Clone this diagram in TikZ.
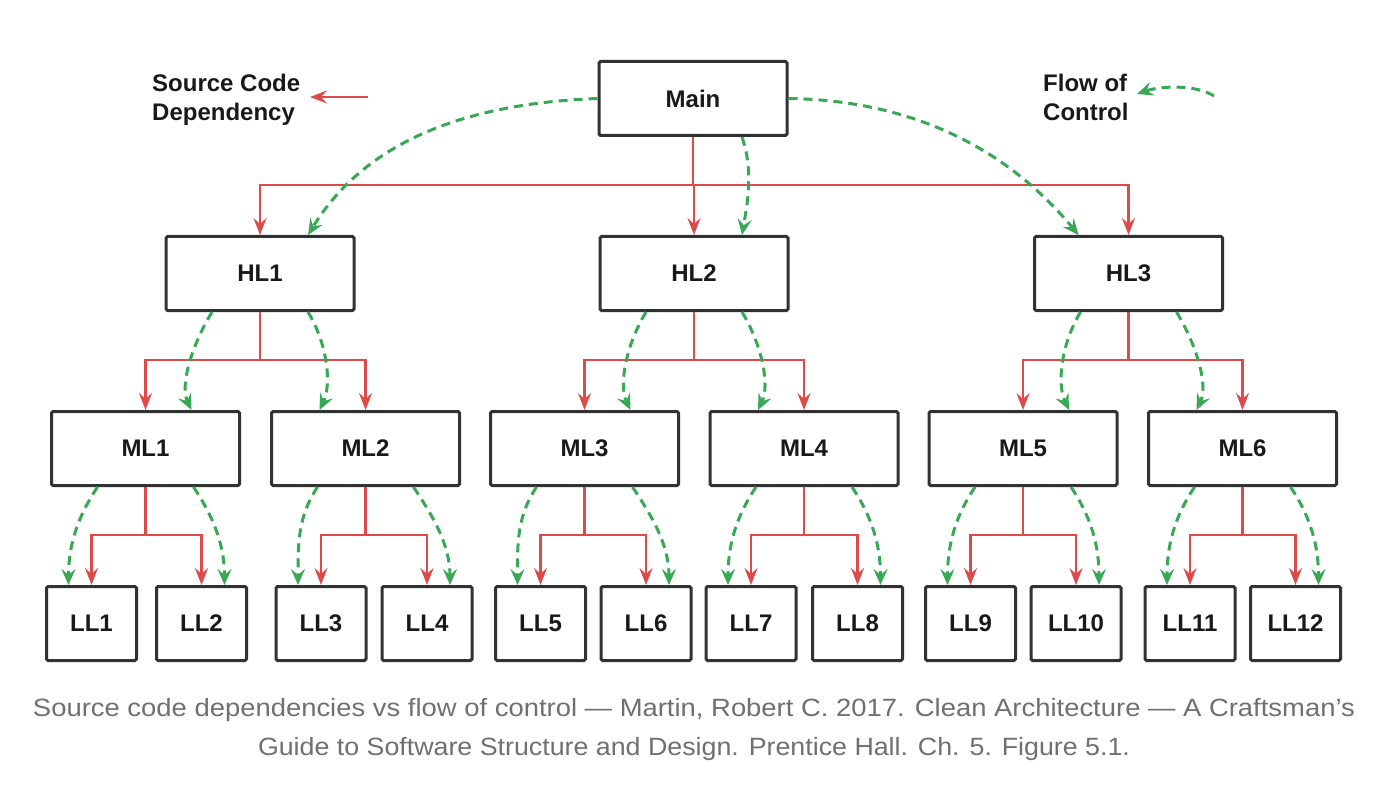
\documentclass[tikz,border=0pt]{standalone}
\usepackage{fontspec}
\setmainfont{Liberation Sans}
\usepackage{graphicx}
\usetikzlibrary{arrows.meta,calc}
\definecolor{depred}{RGB}{222,74,74}
\definecolor{flowgreen}{RGB}{56,168,84}
\definecolor{boxline}{RGB}{50,50,50}
\definecolor{labeltext}{RGB}{25,25,25}
\definecolor{captiongray}{RGB}{112,112,112}
\begin{document}
\begin{tikzpicture}[x=1pt,y=-1pt,
  box/.style={draw=boxline,line width=3pt,rounded corners=1.5pt,fill=white,
    minimum height=74pt,inner sep=0pt,text=labeltext,
    font=\fontsize{24}{29}\selectfont\bfseries},
  bigbox/.style={box,minimum width=188pt},
  llbox/.style={box,minimum width=90pt},
  dep/.style={draw=depred,line width=2.5pt,-{Stealth[length=17pt,width=13pt,inset=6pt]}},
  depline/.style={draw=depred,line width=2.5pt},
  flow/.style={draw=flowgreen,line width=3pt,dash pattern=on 9pt off 6pt,
    -{Stealth[length=16pt,width=14pt,inset=6pt]}},
  legendtext/.style={text=labeltext,inner sep=0pt,anchor=base west,
    font=\fontsize{24}{29}\selectfont\bfseries},
  captiontext/.style={text=captiongray,inner sep=0pt,anchor=base,
    font=\fontsize{25}{30}\selectfont}
]
\path[use as bounding box,fill=white] (0,0) rectangle (1388,786);

% boxes
\node[bigbox] (Main) at (693,98.5) {Main};
\node[bigbox] (HL1) at (260,273.5) {HL1};
\node[bigbox] (HL2) at (694,273.5) {HL2};
\node[bigbox] (HL3) at (1128.5,273.5) {HL3};
\node[bigbox] (ML1) at (145.5,448.5) {ML1};
\node[bigbox] (ML2) at (365.5,448.5) {ML2};
\node[bigbox] (ML3) at (584.5,448.5) {ML3};
\node[bigbox] (ML4) at (804,448.5) {ML4};
\node[bigbox] (ML5) at (1023,448.5) {ML5};
\node[bigbox] (ML6) at (1242.5,448.5) {ML6};
\node[llbox] (LL1) at (91.5,623.5) {LL1};
\node[llbox] (LL2) at (201.5,623.5) {LL2};
\node[llbox] (LL3) at (321,623.5) {LL3};
\node[llbox] (LL4) at (427,623.5) {LL4};
\node[llbox] (LL5) at (540.5,623.5) {LL5};
\node[llbox] (LL6) at (646,623.5) {LL6};
\node[llbox] (LL7) at (751,623.5) {LL7};
\node[llbox] (LL8) at (857.5,623.5) {LL8};
\node[llbox] (LL9) at (970.5,623.5) {LL9};
\node[llbox] (LL10) at (1076,623.5) {LL10};
\node[llbox] (LL11) at (1190,623.5) {LL11};
\node[llbox] (LL12) at (1295.5,623.5) {LL12};

% red dependency tree: Main -> HL
\coordinate (j0) at (693,185);
\draw[depline] (Main.south) -- (j0);
\draw[dep] (j0) -| (HL1.north);
\draw[dep] (j0) -| (HL2.north);
\draw[dep] (j0) -| (HL3.north);

% HL -> ML
\foreach \p/\a/\b in {HL1/ML1/ML2,HL2/ML3/ML4,HL3/ML5/ML6}{
  \coordinate (j\p) at ($(\p.south)+(0,48)$);
  \draw[depline] (\p.south) -- (j\p);
  \draw[dep] (j\p) -| (\a.north);
  \draw[dep] (j\p) -| (\b.north);
}
% ML -> LL
\foreach \p/\a/\b in {ML1/LL1/LL2,ML2/LL3/LL4,ML3/LL5/LL6,ML4/LL7/LL8,ML5/LL9/LL10,ML6/LL11/LL12}{
  \coordinate (j\p) at ($(\p.south)+(0,48)$);
  \draw[depline] (\p.south) -- (j\p);
  \draw[dep] (j\p) -| (\a.north);
  \draw[dep] (j\p) -| (\b.north);
}

% green flow of control: Main -> HL
\draw[flow] (Main.west) .. controls (450,104) and (360,150) .. ([xshift=48pt]HL1.north);
\draw[flow] (Main.east) .. controls (900,100) and (1000,140) .. ([xshift=-50pt]HL3.north);
\draw[flow] ([xshift=49pt]Main.south) .. controls +(12,35) and +(5,-30) .. ([xshift=48pt]HL2.north);

% HL -> ML
\foreach \p/\a/\b in {HL1/ML1/ML2,HL2/ML3/ML4,HL3/ML5/ML6}{
  \draw[flow] ([xshift=-48pt]\p.south) .. controls +(-20,33) and +(-12,-25) .. ([xshift=46pt]\a.north);
  \draw[flow] ([xshift=48pt]\p.south) .. controls +(20,33) and +(12,-25) .. ([xshift=-46pt]\b.north);
}
% ML -> LL
\foreach \p/\a/\b in {ML1/LL1/LL2,ML2/LL3/LL4,ML3/LL5/LL6,ML4/LL7/LL8,ML5/LL9/LL10,ML6/LL11/LL12}{
  \draw[flow] ([xshift=-48pt]\p.south) .. controls +(-20,30) and +(0,-40) .. ([xshift=-23pt]\a.north);
  \draw[flow] ([xshift=48pt]\p.south) .. controls +(20,30) and +(0,-40) .. ([xshift=23pt]\b.north);
}

% legends
\node[legendtext] (lgS1) at (152,92) {Source Code};
\node[legendtext] (lgS2) at (152,121) {Dependency};
\coordinate (lgRa) at (368,97);
\coordinate (lgRb) at (310,97);
\draw[dep] (lgRa) -- (lgRb);

\node[legendtext] (lgF1) at (1043,92) {Flow of};
\node[legendtext] (lgF2) at (1043,121) {Control};
\coordinate (lgGa) at (1214,96);
\coordinate (lgGb) at (1137,94);
\draw[flow] (lgGa) .. controls (1195,84) and (1160,86) .. (lgGb);

% caption
\node[captiontext] (cap1) at (694,716) {\resizebox{1322pt}{\height}{Source code dependencies vs flow of control — Martin, Robert C. 2017. Clean Architecture — A Craftsman’s}};
\node[captiontext] (cap2) at (694,755) {\resizebox{872pt}{\height}{Guide to Software Structure and Design. Prentice Hall. Ch. 5. Figure 5.1.}};
\end{tikzpicture}
\end{document}
